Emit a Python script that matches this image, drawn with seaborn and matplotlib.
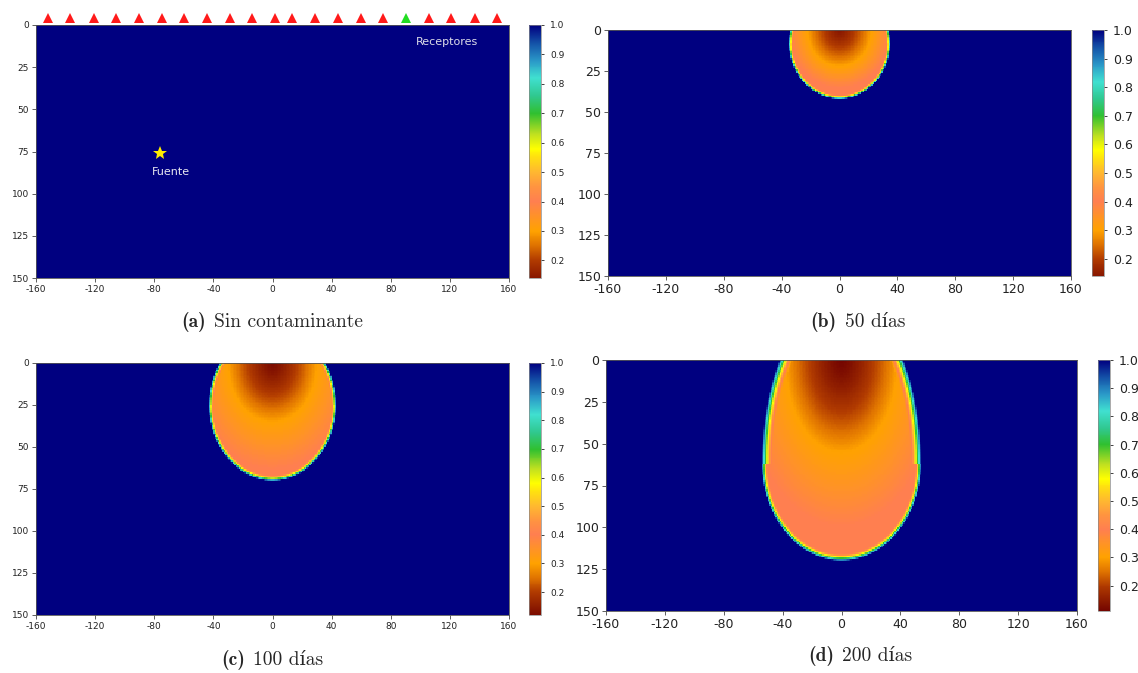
import numpy as np
import pandas as pd
import matplotlib
matplotlib.use("Agg")
import matplotlib.pyplot as plt
from matplotlib.colors import LinearSegmentedColormap, to_rgb
import seaborn as sns

sns.set_style("ticks")
plt.rcParams["font.family"] = ["DejaVu Sans"]

# --- domain -----------------------------------------------------------------
x_edges = np.arange(-160, 161, 1)          # lateral position (m)
z_edges = np.arange(0, 151, 1)             # depth (m)
x_ticks = [-160, -120, -80, -40, 0, 40, 80, 120, 160]
z_ticks = [0, 25, 50, 75, 100, 125, 150]
cbar_ticks = [0.2, 0.3, 0.4, 0.5, 0.6, 0.7, 0.8, 0.9, 1.0]

# --- acquisition geometry (panel a) ----------------------------------------
receiver_x = [-152, -137, -121, -106, -90, -75, -60, -44, -29, -14, 2, 13,
              29, 44, 60, 75, 90, 106, 121, 137, 152]
receiver_active = 90
source_x, source_z = -76, 76

# --- plume description per snapshot (50, 100, 200 days) --------------------
plume_days = [50, 100, 200]
plume_center_depth = [8, 25, 62]
plume_half_width = [35, 43, 54]
plume_up_axis = [34, 45, 99]
plume_down_axis = [34, 45, 58]
core_width = [22, 30, 38]
core_depth = [22, 35, 55]
tail_length = [0.6, 0.8, 0.8]
rim_width_top = [0.08, 0.08, 0.13]
rim_width_bottom = [0.07, 0.07, 0.07]
min_value = [0.14, 0.12, 0.11]
panel_vmin = [0.14, 0.14, 0.12, 0.11]

# --- saturation colour scale ----------------------------------------------
scale_values = [0.10, 0.20, 0.25, 0.30, 0.35, 0.40, 0.45, 0.50, 0.55, 0.58,
                0.63, 0.70, 0.76, 0.82, 0.88, 0.94, 1.00]
scale_colors = ["#6e0000", "#b23c00", "#e07400", "#ffa200", "#ff9228",
                "#ff7f50", "#ff9440", "#ffb830", "#ffe010", "#ffff00",
                "#c0e020", "#30c030", "#30c890", "#40e0d0", "#2a98c8",
                "#1452a8", "#000080"]

caption_tags = ["(a)", "(b)", "(c)", "(d)"]
caption_texts = ["Sin contaminante", "50 días", "100 días", "200 días"]


def make_cmap(vmin):
    pos = [(v - vmin) / (1.0 - vmin) for v in scale_values]
    stops = [(p, to_rgb(c)) for p, c in zip(pos, scale_colors) if 0 <= p <= 1]
    first = next(i for i, p in enumerate(pos) if p >= 0)
    if first > 0:
        p0, p1 = pos[first - 1], pos[first]
        c0 = np.array(to_rgb(scale_colors[first - 1]))
        c1 = np.array(to_rgb(scale_colors[first]))
        f = (0 - p0) / (p1 - p0)
        stops = [(0.0, tuple(c0 + f * (c1 - c0)))] + stops
    return LinearSegmentedColormap.from_list("sat", stops)


def plume_field(i):
    xc = 0.5 * (x_edges[:-1] + x_edges[1:])
    zc = 0.5 * (z_edges[:-1] + z_edges[1:])
    X, Z = np.meshgrid(xc, zc)
    dz = Z - plume_center_depth[i]
    b = np.where(dz < 0, plume_up_axis[i], plume_down_axis[i])
    r = np.sqrt((X / plume_half_width[i]) ** 2 + (dz / b) ** 2)
    rs = np.sqrt((X / core_width[i]) ** 2 + (Z / core_depth[i]) ** 2)
    vmin = min_value[i]
    inner = np.where(rs <= 1,
                     vmin + (0.30 - vmin) * np.clip(rs, 0, 1) ** 1.3,
                     0.30 + 0.10 * np.clip((rs - 1) / tail_length[i], 0, 1))
    w = np.where(dz < 0, rim_width_top[i], rim_width_bottom[i])
    t = np.clip((r - (1 - w)) / w, 0, 1)
    return inner + (1 - inner) * t ** 1.5


fields = [np.ones((len(z_edges) - 1, len(x_edges) - 1))]
fields += [plume_field(i) for i in range(len(plume_days))]

W, H = 1138, 673
fig = plt.figure(figsize=(W / 100, H / 100), dpi=100)


def frac(x0, y0, x1, y1):
    return [x0 / W, 1 - y1 / H, (x1 - x0) / W, (y1 - y0) / H]


axes_px = [(36, 25, 509, 278), (608, 30, 1071, 276),
           (36, 363, 509, 615), (606, 360, 1077, 611)]
cbar_px = [(529, 25, 541, 278), (1092, 30, 1104, 276),
           (529, 363, 541, 615), (1098, 360, 1110, 611)]
caption_px = [(272, 322), (858, 322), (272, 660), (860, 656)]
tick_size = [6.5, 9, 6.5, 9]

for k in range(4):
    ax = fig.add_axes(frac(*axes_px[k]))
    cax = fig.add_axes(frac(*cbar_px[k]))
    df = pd.DataFrame(fields[k], index=z_edges[:-1], columns=x_edges[:-1])
    vmin = panel_vmin[k]
    sns.heatmap(df, ax=ax, cbar_ax=cax, cmap=make_cmap(vmin), vmin=vmin, vmax=1.0,
                xticklabels=False, yticklabels=False, rasterized=True)
    ax.set_xlabel("")
    ax.set_ylabel("")
    ax.set_xticks([v - x_edges[0] for v in x_ticks])
    ax.set_xticklabels([str(v) for v in x_ticks], fontsize=tick_size[k], color="#222222")
    ax.set_yticks([v - z_edges[0] for v in z_ticks])
    ax.set_yticklabels([str(v) for v in z_ticks], fontsize=tick_size[k], color="#222222")
    ax.tick_params(length=3, width=0.6, color="#444444", pad=2)
    for s in ax.spines.values():
        s.set_visible(True)
        s.set_linewidth(0.6)
        s.set_color("#555555")

    cb = ax.collections[0].colorbar
    cb.set_ticks(cbar_ticks)
    cb.set_ticklabels([f"{v:.1f}" for v in cbar_ticks])
    cb.ax.tick_params(labelsize=tick_size[k], length=2.5, width=0.6,
                      colors="#222222", pad=4)
    cb.outline.set_linewidth(0.5)
    cb.outline.set_edgecolor("#888888")

    if k == 0:
        for rx in receiver_x:
            col = "#22dd22" if rx == receiver_active else "#ff1a1a"
            ax.plot(rx - x_edges[0], -4.2, marker="^", markersize=7.5, color=col,
                    markeredgewidth=0, clip_on=False, linestyle="none")
        ax.plot(source_x - x_edges[0], source_z, marker="*", markersize=10,
                color="#ffee00", markeredgewidth=0, linestyle="none")
        ax.text(source_x + 7 - x_edges[0], 87, "Fuente", color="#e8e8f0",
                fontsize=8, ha="center", va="center")
        ax.text(118 - x_edges[0], 10, "Receptores", color="#dcdce8",
                fontsize=8, ha="center", va="center")

# captions: bold tag followed by roman text, centred as a group
fig.canvas.draw()
renderer = fig.canvas.get_renderer()
for k in range(4):
    cx, cy = caption_px[k]
    tag = fig.text(0, 1 - cy / H, caption_tags[k], fontsize=14, va="center",
                   family=["cmb10", "DejaVu Serif"])
    body = fig.text(0, 1 - cy / H, caption_texts[k], fontsize=14, va="center",
                    family=["cmr10", "DejaVu Serif"])
    w_tag = tag.get_window_extent(renderer).width
    w_body = body.get_window_extent(renderer).width
    gap = 8
    x0 = cx - (w_tag + gap + w_body) / 2
    tag.set_x(x0 / W)
    body.set_x((x0 + w_tag + gap) / W)

fig.savefig("out.png", dpi=100)
